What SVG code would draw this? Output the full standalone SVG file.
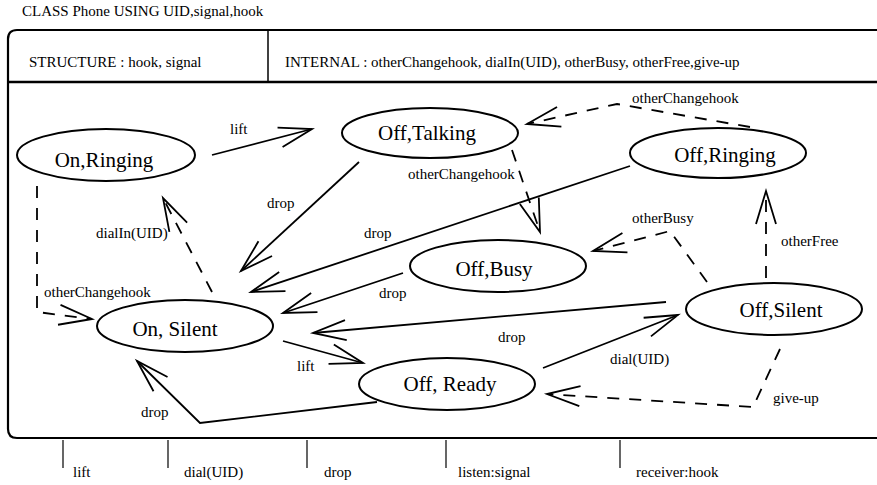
<svg xmlns="http://www.w3.org/2000/svg" width="877" height="485" viewBox="0 0 877 485">
<defs>
<style>
.t{font-family:"Liberation Serif","Times New Roman",serif;font-size:15px;fill:#000}
.n{font-family:"Liberation Serif","Times New Roman",serif;font-size:21px;fill:#000;text-anchor:middle}
.st{fill:#fff;stroke:#000;stroke-width:2}
.c{fill:none;stroke:#000;stroke-width:1.8;marker-end:url(#arr)}
.d{stroke-dasharray:12 10}
.tick{stroke:#000;stroke-width:1.2}
</style>
<marker id="arr" markerUnits="userSpaceOnUse" markerWidth="40" markerHeight="24" viewBox="-36 -12 40 24" refX="0" refY="0" orient="auto" overflow="visible">
<path d="M-33,-10 L0,0 L-33,10" fill="none" stroke="#000" stroke-width="1.8" stroke-dasharray="none"/>
</marker>
</defs>
<rect width="877" height="485" fill="#fff"/>
<g id="frame">
<text class="t" x="22" y="16">CLASS Phone USING UID,signal,hook</text>
<path d="M890,30 H17 Q8,30 8,39 V429 Q8,438 17,438 H890" fill="none" stroke="#000" stroke-width="2.2"/>
<line x1="8" y1="82" x2="890" y2="82" stroke="#000" stroke-width="2.4"/>
<line x1="268" y1="30" x2="268" y2="82" stroke="#000" stroke-width="1.5"/>
<text class="t" x="29" y="67">STRUCTURE : hook, signal</text>
<text class="t" x="285" y="67">INTERNAL : otherChangehook, dialIn(UID), otherBusy, otherFree,give-up</text>
</g>
<g id="ports">
<line class="tick" x1="63" y1="440" x2="63" y2="468"/>
<line class="tick" x1="168" y1="440" x2="168" y2="468"/>
<line class="tick" x1="307" y1="440" x2="307" y2="468"/>
<line class="tick" x1="446" y1="440" x2="446" y2="468"/>
<line class="tick" x1="620" y1="440" x2="620" y2="468"/>
<text class="t" x="73" y="477">lift</text>
<text class="t" x="184" y="477">dial(UID)</text>
<text class="t" x="324" y="477">drop</text>
<text class="t" x="458" y="477">listen:signal</text>
<text class="t" x="636" y="477">receiver:hook</text>
</g>
<g id="connectors">
<path class="c" d="M212,155 L312,129"/>
<text class="t" x="230" y="134">lift</text>
<path class="c" d="M359,162 L241,271"/>
<text class="t" x="267" y="208">drop</text>
<path class="c" d="M630,166 L251,292"/>
<text class="t" x="364" y="238">drop</text>
<path class="c" d="M403,273 L283,313"/>
<text class="t" x="379" y="298">drop</text>
<path class="c" d="M666,302 L313,333"/>
<text class="t" x="498" y="342">drop</text>
<path class="c" d="M283,341 L363,363"/>
<text class="t" x="297" y="371">lift</text>
<path class="c" d="M543,368 L678,315"/>
<text class="t" x="610" y="364">dial(UID)</text>
<path class="c" d="M377,402 L200,423 L137,361"/>
<text class="t" x="141" y="417">drop</text>
<path class="c d" d="M37,186 L37,312 L92,319"/>
<text class="t" x="44" y="297">otherChangehook</text>
<path class="c d" d="M212,292 L163,198"/>
<text class="t" x="96" y="238">dialIn(UID)</text>
<path class="c d" d="M750,127 L617,104 L527,124"/>
<text class="t" x="632" y="103">otherChangehook</text>
<path class="c d" d="M512,150 L540,232"/>
<text class="t" x="408" y="179">otherChangehook</text>
<path class="c d" d="M707,282 L670,231 L593,251"/>
<text class="t" x="632" y="223">otherBusy</text>
<path class="c d" d="M766,278 L766,191"/>
<text class="t" x="781" y="246">otherFree</text>
<path class="c d" d="M780,349 L753,407 L547,394"/>
<text class="t" x="773" y="403">give-up</text>
</g>
<g id="on-ringing"><ellipse class="st" cx="106" cy="155" rx="89" ry="26"/><text class="n" x="104" y="167">On,Ringing</text></g>
<g id="off-talking"><ellipse class="st" cx="430" cy="133" rx="88" ry="25"/><text class="n" x="427" y="140">Off,Talking</text></g>
<g id="off-ringing"><ellipse class="st" cx="718" cy="153" rx="88" ry="25"/><text class="n" x="725" y="162">Off,Ringing</text></g>
<g id="off-busy"><ellipse class="st" cx="498" cy="266" rx="88" ry="26"/><text class="n" x="494" y="276">Off,Busy</text></g>
<g id="on-silent"><ellipse class="st" cx="185" cy="326" rx="88" ry="26"/><text class="n" x="175" y="336">On, Silent</text></g>
<g id="off-ready"><ellipse class="st" cx="447" cy="384" rx="88" ry="26"/><text class="n" x="450" y="391">Off, Ready</text></g>
<g id="off-silent"><ellipse class="st" cx="774" cy="309" rx="88" ry="26"/><text class="n" x="781" y="317">Off,Silent</text></g>
</svg>
